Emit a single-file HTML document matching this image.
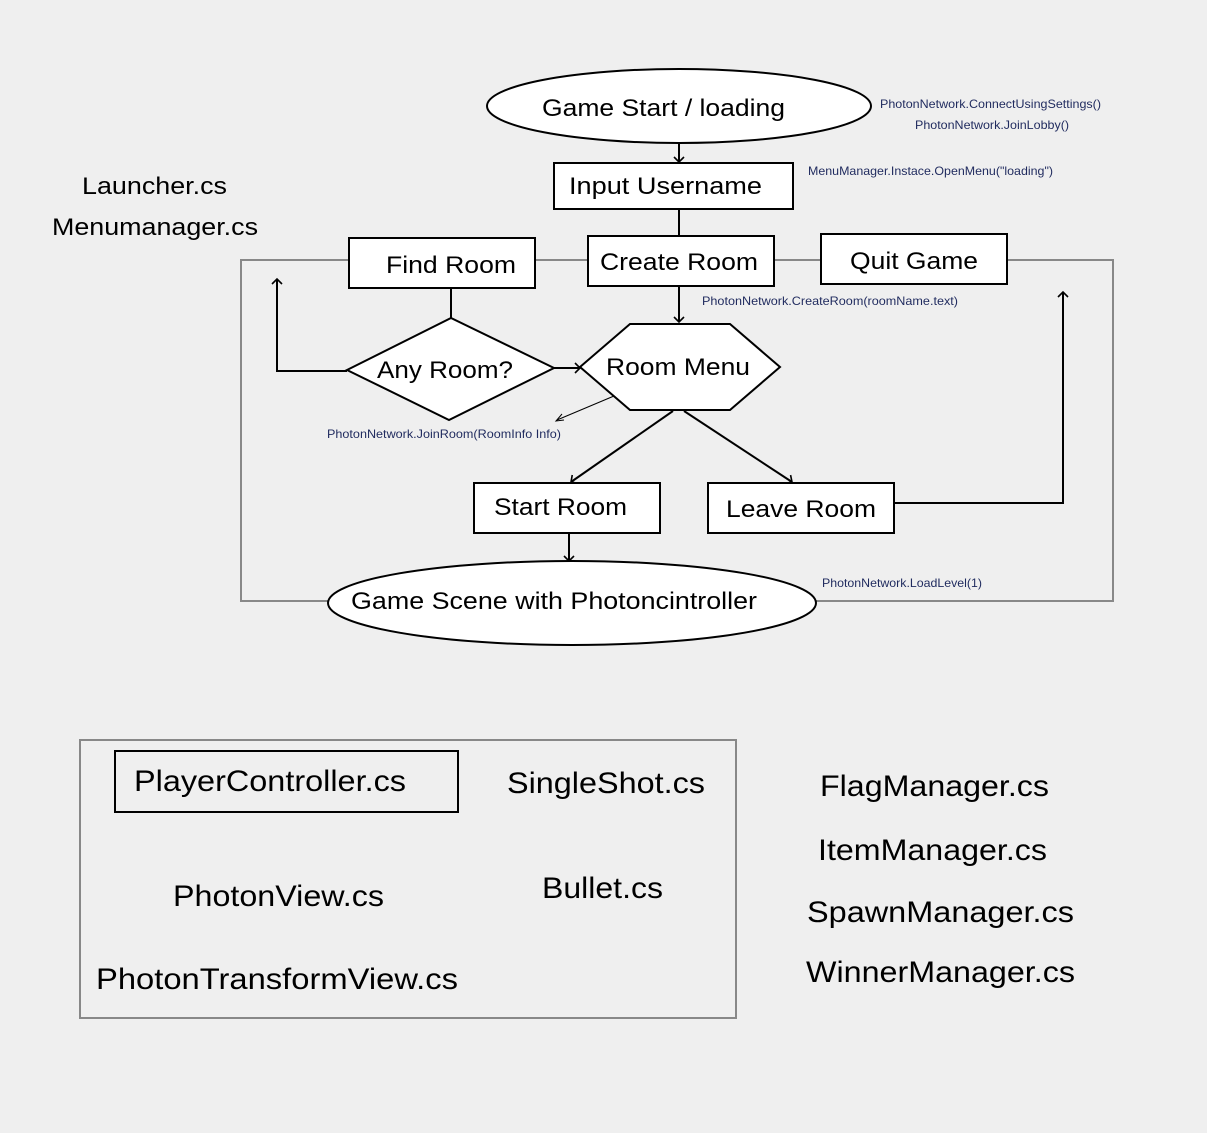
<!DOCTYPE html>
<html><head><meta charset="utf-8"><style>
html,body{margin:0;padding:0;background:#efefef;}
svg{display:block;font-family:"Liberation Sans",Arial,sans-serif;}
.b{font-size:24px;fill:#000;}
.s{font-size:12px;fill:#1f2a5e;}
</style></head><body>
<svg width="1207" height="1133" viewBox="0 0 1207 1133" xmlns="http://www.w3.org/2000/svg">
<rect width="1207" height="1133" fill="#efefef"/>
<defs><marker id="a" markerWidth="12" markerHeight="12" refX="6" refY="6" orient="auto" markerUnits="userSpaceOnUse"><path d="M1,1 L6,6 L1,11" fill="none" stroke="#000" stroke-width="1.6"/></marker></defs>
<g fill="none" stroke="#888" stroke-width="2">
<rect x="241" y="260" width="872" height="341"/>
<rect x="80" y="740" width="656" height="278"/>
</g>
<g stroke="#000" stroke-width="2" fill="none">
<line x1="679" y1="143" x2="679" y2="162" marker-end="url(#a)"/>
<line x1="679" y1="209" x2="679" y2="236"/>
<line x1="451" y1="288" x2="451" y2="318"/>
<polyline points="347,371 277,371 277,279" marker-end="url(#a)"/>
<line x1="554" y1="368" x2="580" y2="368" marker-end="url(#a)"/>
<line x1="679" y1="286" x2="679" y2="322" marker-end="url(#a)"/>
<line x1="673" y1="411" x2="571" y2="482" marker-end="url(#a)"/>
<line x1="684" y1="411" x2="792" y2="482" marker-end="url(#a)"/>
<polyline points="894,503 1063,503 1063,292" marker-end="url(#a)"/>
<line x1="569" y1="533" x2="569" y2="561" marker-end="url(#a)"/>
</g>
<line x1="614" y1="396" x2="557" y2="420" stroke="#000" stroke-width="1"/>
<path d="M562,414 L556,421 L564,420" fill="none" stroke="#000" stroke-width="1"/>
<g stroke="#000" stroke-width="2" fill="#fff">
<ellipse cx="679" cy="106" rx="192" ry="37"/>
<rect x="554" y="163" width="239" height="46"/>
<rect x="349" y="238" width="186" height="50"/>
<rect x="588" y="236" width="186" height="50"/>
<rect x="821" y="234" width="186" height="50"/>
<polygon points="347,370 451,318 554,368 449,420"/>
<polygon points="580,367 630,324 730,324 780,367 730,410 630,410"/>
<rect x="474" y="483" width="186" height="50"/>
<rect x="708" y="483" width="186" height="50"/>
<ellipse cx="572" cy="603" rx="244" ry="42"/>
<rect x="115" y="751" width="343" height="61" fill="none"/>
</g>
<g class="b">
<text x="542" y="116" textLength="243" lengthAdjust="spacingAndGlyphs">Game Start / loading</text>
<text x="569" y="194" textLength="193" lengthAdjust="spacingAndGlyphs">Input Username</text>
<text x="386" y="273" textLength="130" lengthAdjust="spacingAndGlyphs">Find Room</text>
<text x="600" y="270" textLength="158" lengthAdjust="spacingAndGlyphs">Create Room</text>
<text x="850" y="269" textLength="128" lengthAdjust="spacingAndGlyphs">Quit Game</text>
<text x="377" y="378" textLength="136" lengthAdjust="spacingAndGlyphs">Any Room?</text>
<text x="606" y="375" textLength="144" lengthAdjust="spacingAndGlyphs">Room Menu</text>
<text x="494" y="515" textLength="133" lengthAdjust="spacingAndGlyphs">Start Room</text>
<text x="726" y="517" textLength="150" lengthAdjust="spacingAndGlyphs">Leave Room</text>
<text x="351" y="609" textLength="406" lengthAdjust="spacingAndGlyphs">Game Scene with Photoncintroller</text>
<text x="82" y="194" textLength="145" lengthAdjust="spacingAndGlyphs">Launcher.cs</text>
<text x="52" y="235" textLength="206" lengthAdjust="spacingAndGlyphs">Menumanager.cs</text>
</g>
<g style="font-size:30px">
<text x="134" y="791" textLength="272" lengthAdjust="spacingAndGlyphs">PlayerController.cs</text>
<text x="507" y="793" textLength="198" lengthAdjust="spacingAndGlyphs">SingleShot.cs</text>
<text x="173" y="906" textLength="211" lengthAdjust="spacingAndGlyphs">PhotonView.cs</text>
<text x="542" y="898" textLength="121" lengthAdjust="spacingAndGlyphs">Bullet.cs</text>
<text x="96" y="989" textLength="362" lengthAdjust="spacingAndGlyphs">PhotonTransformView.cs</text>
<text x="820" y="796" textLength="229" lengthAdjust="spacingAndGlyphs">FlagManager.cs</text>
<text x="818" y="860" textLength="229" lengthAdjust="spacingAndGlyphs">ItemManager.cs</text>
<text x="807" y="922" textLength="267" lengthAdjust="spacingAndGlyphs">SpawnManager.cs</text>
<text x="806" y="982" textLength="269" lengthAdjust="spacingAndGlyphs">WinnerManager.cs</text>
</g>
<g class="s">
<text x="880" y="108" textLength="221" lengthAdjust="spacingAndGlyphs">PhotonNetwork.ConnectUsingSettings()</text>
<text x="915" y="129" textLength="154" lengthAdjust="spacingAndGlyphs">PhotonNetwork.JoinLobby()</text>
<text x="808" y="175" textLength="245" lengthAdjust="spacingAndGlyphs">MenuManager.Instace.OpenMenu("loading")</text>
<text x="702" y="305" textLength="256" lengthAdjust="spacingAndGlyphs">PhotonNetwork.CreateRoom(roomName.text)</text>
<text x="327" y="438" textLength="234" lengthAdjust="spacingAndGlyphs">PhotonNetwork.JoinRoom(RoomInfo Info)</text>
<text x="822" y="587" textLength="160" lengthAdjust="spacingAndGlyphs">PhotonNetwork.LoadLevel(1)</text>
</g>
</svg>
</body></html>
